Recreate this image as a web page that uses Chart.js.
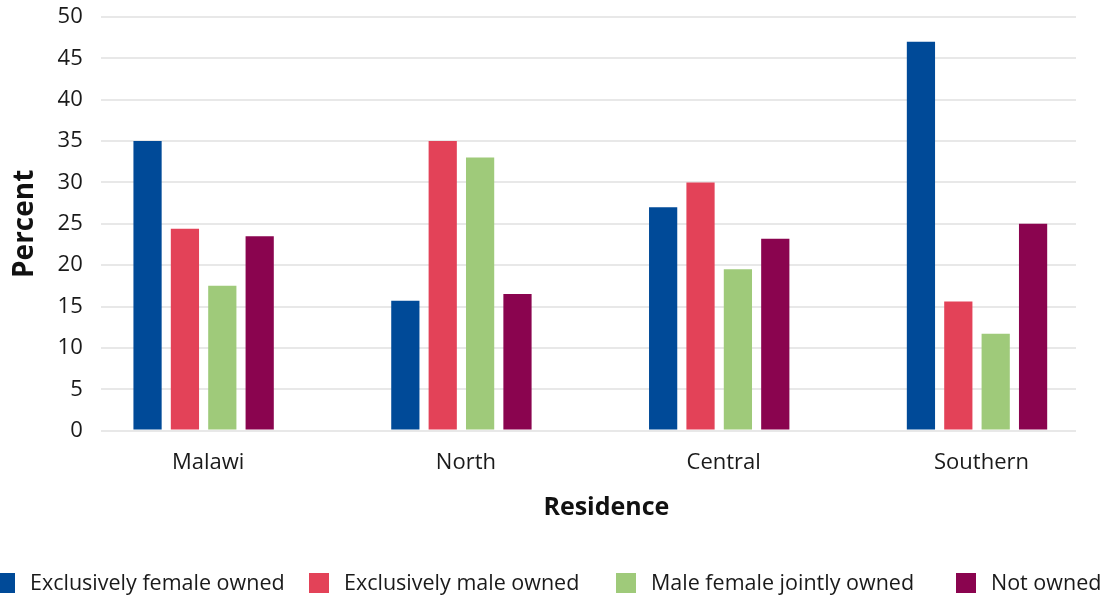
<!DOCTYPE html>
<html>
<head>
<meta charset="utf-8">
<script src="https://cdn.jsdelivr.net/npm/chart.js@4/dist/chart.umd.min.js"></script>
<style>
  html, body { margin: 0; padding: 0; background: #ffffff; }
  #wrap { width: 1102px; height: 599px; }
</style>
</head>
<body>
<div id="wrap"><canvas id="c" width="1102" height="599"></canvas></div>
<script>
// Land ownership by residence (percent)
const categories = ['Malawi', 'North', 'Central', 'Southern'];
const femaleOwned = [35.0, 15.7, 27.0, 47.0];
const maleOwned = [24.4, 35.0, 30.0, 15.6];
const jointlyOwned = [17.5, 33.0, 19.5, 11.7];
const notOwned = [23.5, 16.5, 23.2, 25.0];
const yTicks = [0, 5, 10, 15, 20, 25, 30, 35, 40, 45, 50];

const seriesNames = ['Exclusively female owned', 'Exclusively male owned', 'Male female jointly owned', 'Not owned'];
const seriesColors = ['#004a98', '#e34258', '#9fca7a', '#8a044f'];
const seriesValues = [femaleOwned, maleOwned, jointlyOwned, notOwned];

const FONT = "'Open Sans', 'Noto Sans', sans-serif";
const TEXT = '#1a1a1a';

const datasets = seriesValues.map((vals, s) => ({
  label: seriesNames[s],
  data: vals.map((v, i) => ({ x: i, y: v })),
  backgroundColor: seriesColors[s],
  borderWidth: 0,
  categoryPercentage: 0.58,
  barPercentage: 0.755
}));

// Axis title under the category labels and a one-row legend along the bottom edge
const legendBoxX = [-5, 309, 616, 956];
const bottomTexts = {
  id: 'bottomTexts',
  afterDraw(chart) {
    const { ctx, chartArea } = chart;
    ctx.save();
    ctx.fillStyle = '#111';
    ctx.font = `bold 25px ${FONT}`;
    ctx.textAlign = 'center';
    ctx.textBaseline = 'middle';
    ctx.fillText('Residence', (chartArea.left + chartArea.right) / 2 + 18, 508);

    ctx.font = `21.5px ${FONT}`;
    ctx.textAlign = 'left';
    chart.data.datasets.forEach((ds, i) => {
      const x = legendBoxX[i];
      ctx.fillStyle = ds.backgroundColor;
      ctx.fillRect(x, 573, 20, 20);
      ctx.fillStyle = TEXT;
      ctx.fillText(ds.label, x + 35, 584);
    });
    ctx.restore();
  }
};

new Chart(document.getElementById('c'), {
  type: 'bar',
  data: { datasets },
  plugins: [bottomTexts],
  options: {
    responsive: false,
    animation: false,
    layout: { padding: { top: 0, right: 26, left: 4, bottom: 112 } },
    plugins: {
      tooltip: { enabled: false },
      legend: { display: false }
    },
    scales: {
      x: {
        type: 'linear',
        min: -0.399,
        max: 3.384,
        offset: false,
        grid: { display: false, offset: false },
        border: { display: false },
        afterBuildTicks: (scale) => {
          scale.ticks = categories.map((_, i) => ({ value: i }));
        },
        ticks: {
          autoSkip: false,
          maxRotation: 0,
          padding: 11,
          labelOffset: 4.5,
          color: TEXT,
          font: { family: FONT, size: 22 },
          callback: (v) => categories[v] ?? ''
        }
      },
      y: {
        min: 0,
        max: 50,
        afterBuildTicks: (scale) => {
          scale.ticks = yTicks.map(v => ({ value: v }));
        },
        grid: { color: '#e8e8e8', lineWidth: 2, drawTicks: true, tickLength: 12, tickColor: 'rgba(0,0,0,0)' },
        border: { display: false },
        ticks: {
          padding: 6,
          color: TEXT,
          font: { family: FONT, size: 22, lineHeight: 1 }
        },
        title: {
          display: true,
          text: 'Percent',
          color: '#111',
          font: { family: FONT, size: 28, weight: 'bold' },
          padding: { top: 4, bottom: 10 }
        }
      }
    }
  }
});
</script>
</body>
</html>
